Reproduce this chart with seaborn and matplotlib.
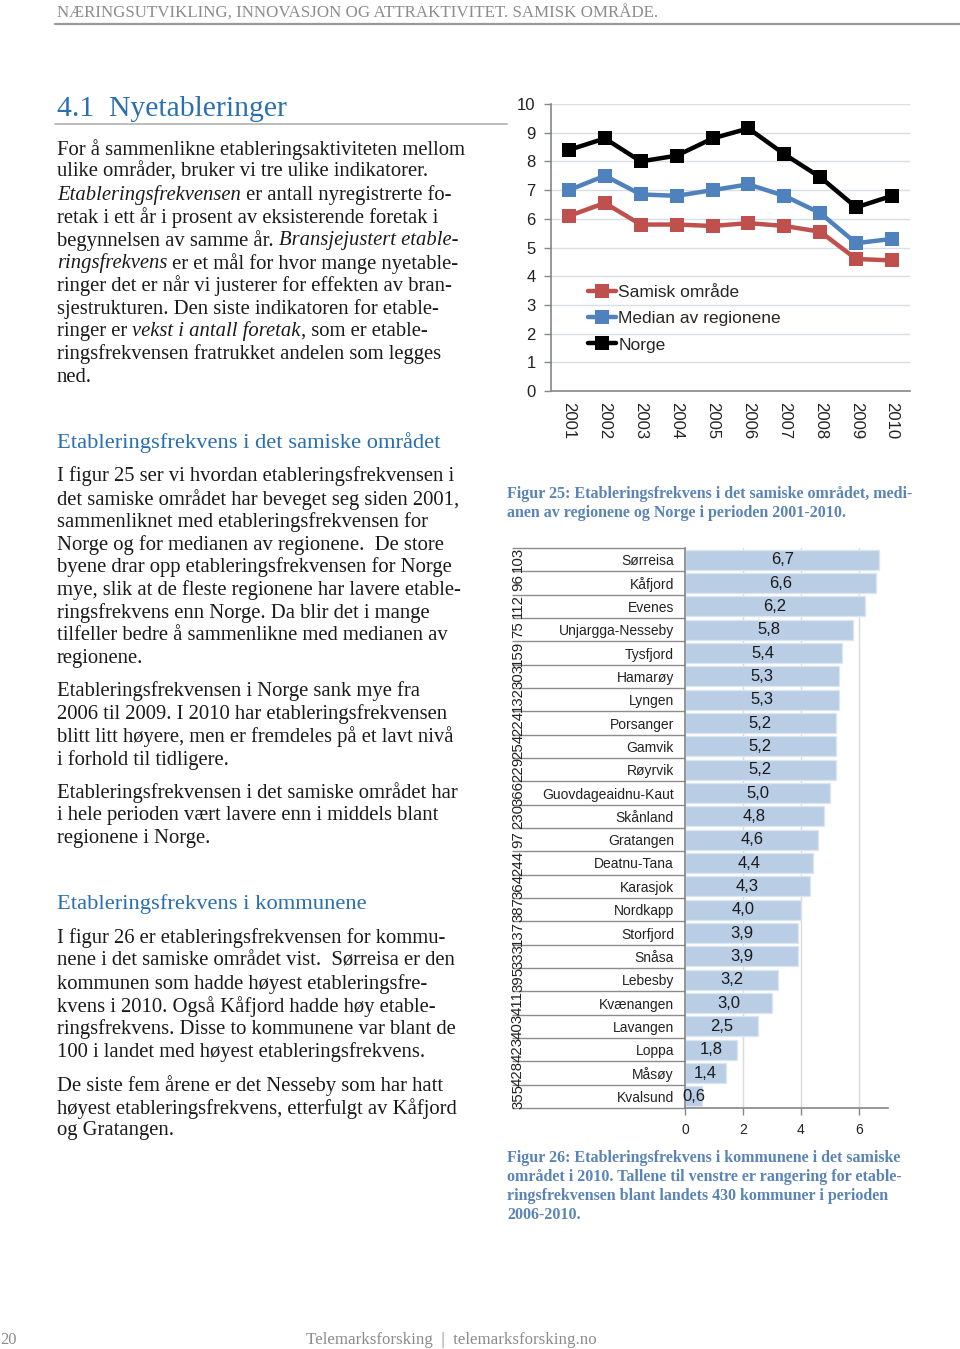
import matplotlib
matplotlib.use("Agg")
import matplotlib.pyplot as plt
import seaborn as sns
import numpy as np
import pandas as pd

sns.set_theme(style="white")
plt.rcParams["font.family"] = ["Liberation Sans", "DejaVu Sans"]

# ── DATA ────────────────────────────────────────────────────
years = ["2001", "2002", "2003", "2004", "2005", "2006", "2007", "2008", "2009", "2010"]
samisk = [6.1, 6.55, 5.8, 5.8, 5.75, 5.85, 5.75, 5.55, 4.6, 4.55]
median_reg = [7.0, 7.5, 6.85, 6.8, 7.0, 7.2, 6.8, 6.2, 5.15, 5.3]
norge = [8.4, 8.8, 8.0, 8.2, 8.8, 9.15, 8.25, 7.45, 6.4, 6.8]
y_ticks = [0, 1, 2, 3, 4, 5, 6, 7, 8, 9, 10]

kommuner = ["Sørreisa", "Kåfjord", "Evenes", "Unjargga-Nesseby", "Tysfjord", "Hamarøy",
            "Lyngen", "Porsanger", "Gamvik", "Røyrvik", "Guovdageaidnu-Kaut", "Skånland",
            "Gratangen", "Deatnu-Tana", "Karasjok", "Nordkapp", "Storfjord", "Snåsa",
            "Lebesby", "Kvænangen", "Lavangen", "Loppa", "Måsøy", "Kvalsund"]
frekvens = [6.7, 6.6, 6.2, 5.8, 5.4, 5.3, 5.3, 5.2, 5.2, 5.2, 5.0, 4.8,
            4.6, 4.4, 4.3, 4.0, 3.9, 3.9, 3.2, 3.0, 2.5, 1.8, 1.4, 0.6]
rangering = [103, 96, 112, 75, 159, 303, 132, 224, 254, 229, 366, 230,
             97, 244, 364, 387, 137, 333, 395, 411, 403, 423, 428, 355]
x_ticks_bar = [0, 2, 4, 6]

W, H = 960, 1349
SERIF = ["Liberation Serif", "DejaVu Serif"]
BLUE_HEAD = "#2A6FB0"
CAPTION = "#5B84B6"
BODY = "#1A1A1A"
GREY = "#8C8C8C"

fig = plt.figure(figsize=(W / 100, H / 100), dpi=100)
renderer = fig.canvas.get_renderer()


def px(x, y):
    return x / W, 1 - y / H


def rich_line(x, y, line, size=14.9, color=BODY):
    # *text* marks italic runs
    parts = line.split("*")
    for i, part in enumerate(parts):
        if not part:
            continue
        t = fig.text(*px(x, y), part, fontsize=size, family=SERIF,
                     style="italic" if i % 2 else "normal", color=color,
                     va="center_baseline", ha="left")
        x += t.get_window_extent(renderer).width


def paragraph(lines, y0, step=22.75, x=57):
    for i, line in enumerate(lines):
        rich_line(x, y0 + i * step, line)


# ── PAGE TEXT ───────────────────────────────────────────────
fig.text(*px(57, 12), "NÆRINGSUTVIKLING, INNOVASJON OG ATTRAKTIVITET. SAMISK OMRÅDE.",
         fontsize=12.2, family=SERIF, color=GREY, va="center_baseline")
fig.add_artist(plt.Line2D([55 / W, 1], [1 - 24 / H] * 2, color="#9A9A9A", lw=1.6))

fig.text(*px(57, 106), "4.1  Nyetableringer", fontsize=21.3, family=SERIF,
         color=BLUE_HEAD, va="center_baseline")
fig.add_artist(plt.Line2D([55 / W, 507 / W], [1 - 124 / H] * 2, color="#BDBDBD", lw=1.4))

paragraph([
    "For å sammenlikne etableringsaktiviteten mellom",
    "ulike områder, bruker vi tre ulike indikatorer.",
    "*Etableringsfrekvensen* er antall nyregistrerte fo-",
    "retak i ett år i prosent av eksisterende foretak i",
    "begynnelsen av samme år. *Bransjejustert etable-*",
    "*ringsfrekvens* er et mål for hvor mange nyetable-",
    "ringer det er når vi justerer for effekten av bran-",
    "sjestrukturen. Den siste indikatoren for etable-",
    "ringer er *vekst i antall foretak*, som er etable-",
    "ringsfrekvensen fratrukket andelen som legges",
    "ned.",
], 147)

fig.text(*px(57, 440), "Etableringsfrekvens i det samiske området", fontsize=16.2,
         family=SERIF, color=BLUE_HEAD, va="center_baseline")

paragraph([
    "I figur 25 ser vi hvordan etableringsfrekvensen i",
    "det samiske området har beveget seg siden 2001,",
    "sammenliknet med etableringsfrekvensen for",
    "Norge og for medianen av regionene.  De store",
    "byene drar opp etableringsfrekvensen for Norge",
    "mye, slik at de fleste regionene har lavere etable-",
    "ringsfrekvens enn Norge. Da blir det i mange",
    "tilfeller bedre å sammenlikne med medianen av",
    "regionene.",
], 474)

paragraph([
    "Etableringsfrekvensen i Norge sank mye fra",
    "2006 til 2009. I 2010 har etableringsfrekvensen",
    "blitt litt høyere, men er fremdeles på et lavt nivå",
    "i forhold til tidligere.",
], 689)

paragraph([
    "Etableringsfrekvensen i det samiske området har",
    "i hele perioden vært lavere enn i middels blant",
    "regionene i Norge.",
], 790)

fig.text(*px(57, 902), "Etableringsfrekvens i kommunene", fontsize=16.2,
         family=SERIF, color=BLUE_HEAD, va="center_baseline")

paragraph([
    "I figur 26 er etableringsfrekvensen for kommu-",
    "nene i det samiske området vist.  Sørreisa er den",
    "kommunen som hadde høyest etableringsfre-",
    "kvens i 2010. Også Kåfjord hadde høy etable-",
    "ringsfrekvens. Disse to kommunene var blant de",
    "100 i landet med høyest etableringsfrekvens.",
], 936)

paragraph([
    "De siste fem årene er det Nesseby som har hatt",
    "høyest etableringsfrekvens, etterfulgt av Kåfjord",
    "og Gratangen.",
], 1083)

for i, line in enumerate(["Figur 25: Etableringsfrekvens i det samiske området, medi-",
                          "anen av regionene og Norge i perioden 2001-2010."]):
    fig.text(*px(507, 492 + i * 19), line, fontsize=11.55, family=SERIF,
             weight="bold", color=CAPTION, va="center_baseline")

for i, line in enumerate(["Figur 26: Etableringsfrekvens i kommunene i det samiske",
                          "området i 2010. Tallene til venstre er rangering for etable-",
                          "ringsfrekvensen blant landets 430 kommuner i perioden",
                          "2006-2010."]):
    fig.text(*px(507, 1156 + i * 19), line, fontsize=11.55, family=SERIF,
             weight="bold", color=CAPTION, va="center_baseline")

fig.text(*px(0, 1338), "20", fontsize=12, family=SERIF, color=GREY, va="center_baseline")
fig.text(*px(451, 1338), "Telemarksforsking  |  telemarksforsking.no", fontsize=12.2,
         family=SERIF, color=GREY, va="center_baseline", ha="center")

# ── FIGUR 25: LINE CHART ────────────────────────────────────
ax1 = fig.add_axes([551 / W, 1 - 391 / H, 359 / W, 287 / H])
series = [("Samisk område", samisk, "#C0504D"),
          ("Median av regionene", median_reg, "#4F81BD"),
          ("Norge", norge, "#000000")]
for label, vals, col in series:
    df = pd.DataFrame({"år": years, "verdi": vals})
    sns.lineplot(data=df, x="år", y="verdi", ax=ax1, color=col, lw=3.2,
                 marker="s", markersize=9.5, markeredgewidth=0, label=label)

ax1.set_xlim(-0.5, len(years) - 0.5)
ax1.set_ylim(0, 10)
ax1.set_yticks(y_ticks)
ax1.set_yticklabels([str(v) for v in y_ticks], fontsize=12, color="#222222")
ax1.set_xticks(range(len(years)))
ax1.set_xticklabels(years, rotation=270, fontsize=12, color="#222222")
ax1.set_xticks(np.arange(len(years) + 1) - 0.5, minor=True)
ax1.tick_params(axis="x", which="major", length=0, pad=8)
ax1.tick_params(axis="x", which="minor", length=5, width=1, color="#868686", direction="out")
ax1.tick_params(axis="y", length=5, width=1, color="#868686", direction="out", left=True, pad=6)
ax1.grid(axis="y", color="#D6DEE8", lw=1)
ax1.set_axisbelow(True)
for side in ["top", "right"]:
    ax1.spines[side].set_visible(False)
for side in ["left", "bottom"]:
    ax1.spines[side].set_color("#868686")
    ax1.spines[side].set_linewidth(1.2)
ax1.set_xlabel("")
ax1.set_ylabel("")
ax1.legend(loc="upper left", bbox_to_anchor=(0.085, 0.394), frameon=False, fontsize=12.5,
           handlelength=1.6, handletextpad=0.12, labelspacing=0.64, borderaxespad=0)

# ── FIGUR 26: BAR CHART ─────────────────────────────────────
ax2 = fig.add_axes([685 / W, 1 - 1108 / H, 203 / W, 560 / H])
bdf = pd.DataFrame({"kommune": kommuner, "frekvens": frekvens})
sns.barplot(data=bdf, x="frekvens", y="kommune", orient="h", ax=ax2, color="#B9CDE5",
            saturation=1, width=0.86, edgecolor="#DCE6F1", linewidth=1)
ax2.set_xlim(0, 7)
ax2.set_ylim(len(kommuner) - 0.5, -0.5)
ax2.set_xticks(x_ticks_bar)
ax2.set_xticklabels([str(v) for v in x_ticks_bar], fontsize=10, color="#222222")
ax2.tick_params(axis="x", length=5, width=1, color="#868686", direction="out", bottom=True, pad=6)
ax2.set_yticks(range(len(kommuner)))
ax2.set_yticklabels(kommuner, fontsize=10, color="#222222")
ax2.tick_params(axis="y", length=0, pad=8)
ax2.grid(axis="x", color="#DADADA", lw=1)
ax2.set_axisbelow(True)
for side in ["top", "right"]:
    ax2.spines[side].set_visible(False)
for side in ["left", "bottom"]:
    ax2.spines[side].set_color("#868686")
    ax2.spines[side].set_linewidth(1.2)
ax2.set_xlabel("")
ax2.set_ylabel("")

ax2.bar_label(ax2.containers[0], labels=[f"{v:.1f}".replace(".", ",") for v in frekvens],
              label_type="center", fontsize=12, color="#1A1A1A")

# table-like separators and rank labels left of the names
ytr = ax2.get_yaxis_transform()
left_x = (512 - 685) / 203
ax2.hlines(np.arange(len(kommuner) + 1) - 0.5, left_x, 0, transform=ytr,
           color="#8C8C8C", lw=1, clip_on=False)
for i, r in enumerate(rangering):
    ax2.text((518 - 685) / 203, i, str(r), transform=ytr, rotation=90, fontsize=10.8,
             ha="center", va="center", color="#222222")

fig.savefig("out.png", dpi=100, facecolor="white")
